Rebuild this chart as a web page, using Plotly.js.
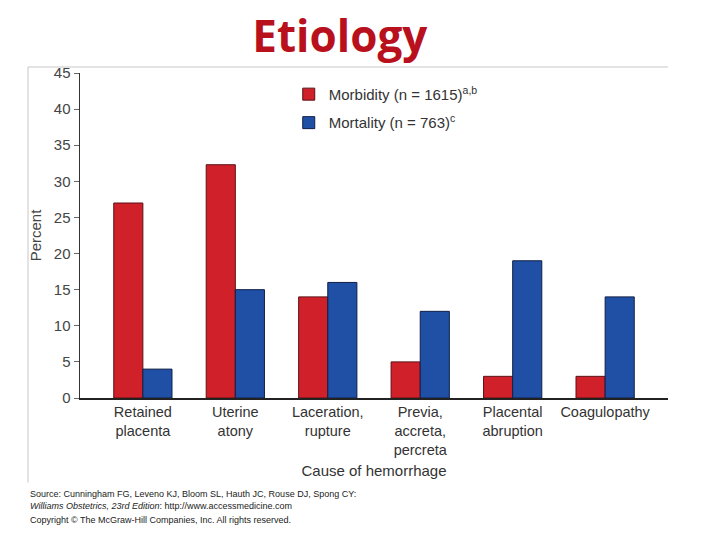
<!DOCTYPE html>
<html><head><meta charset="utf-8">
<script src="https://cdn.plot.ly/plotly-3.0.1.min.js"></script>
<style>html,body{margin:0;padding:0;background:#fff}#c{width:720px;height:540px}</style>
</head><body><div id="c"></div>
<script>
const categories = ["Retained<br>placenta","Uterine<br>atony","Laceration,<br>rupture","Previa,<br>accreta,<br>percreta","Placental<br>abruption","Coagulopathy"];
const morbidity = [27, 32.3, 14, 5, 3, 3];
const mortality = [4, 15, 16, 12, 19, 14];
const seriesNames = ["Morbidity (n = 1615)<sup>a,b</sup>", "Mortality (n = 763)<sup>c</sup>"];
const yTicks = [0,5,10,15,20,25,30,35,40,45];

const font = "Liberation Sans, Arial, sans-serif";
const traces = [
  {type:'bar', x:categories.map((c,i)=>i), y:morbidity, name:seriesNames[0], legendgroup:'a',
   marker:{color:'#d0212b', line:{color:'#5a1015', width:1}}},
  {type:'bar', x:categories.map((c,i)=>i), y:mortality, name:seriesNames[1], legendgroup:'b',
   marker:{color:'#1f50a6', line:{color:'#101f45', width:1}}}
];
const layout = {
  width:720, height:540,
  margin:{l:80, r:52, t:73, b:142},
  paper_bgcolor:'#fff', plot_bgcolor:'#fff',
  barmode:'group', bargap:0.37, bargroupgap:0,
  title:{text:'<b>Etiology</b>', x:0.472, xanchor:'center', y:0.932, yanchor:'middle',
         font:{family:'Open Sans, Liberation Sans, sans-serif', size:44, color:'#b8101c'}},
  xaxis:{range:[-0.68,5.68], tickvals:categories.map((c,i)=>i), ticktext:categories,
         showline:true, linecolor:'#222', linewidth:2, ticks:'', showgrid:false, zeroline:false,
         tickfont:{family:font, size:14.5, color:'#333'},
         title:{text:'Cause of hemorrhage', font:{family:font, size:15, color:'#333'}, standoff:8}},
  yaxis:{range:[0,45], tickvals:yTicks, showline:true, linecolor:'#333', linewidth:1.5,
         ticks:'outside', ticklen:5, tickcolor:'#666', showgrid:false, zeroline:false,
         tickfont:{family:font, size:15, color:'#444'},
         title:{text:'Percent', font:{family:font, size:15, color:'#444'}, standoff:8}},
  legend:{x:0.355, y:0.985, xanchor:'left', yanchor:'top', bgcolor:'rgba(0,0,0,0)',
          font:{family:font, size:15, color:'#333'}, tracegroupgap:6, itemwidth:30},
  shapes:[
    {type:'line', xref:'paper', yref:'paper', x0:-0.0884, x1:1, y0:1.0185, y1:1.0185, line:{color:'#c8c8c8', width:1}},
    {type:'line', xref:'paper', yref:'paper', x0:-0.0884, x1:-0.0884, y0:1.0185, y1:-0.26, line:{color:'#c8c8c8', width:1}}
  ],
  annotations:[
    {xref:'paper', yref:'paper', x:-0.0884, y:-0.275, xanchor:'left', yanchor:'top', align:'left', showarrow:false,
     text:'Source: Cunningham FG, Leveno KJ, Bloom SL, Hauth JC, Rouse DJ, Spong CY:<br><i>Williams Obstetrics, 23rd Edition</i>: http://www.accessmedicine.com',
     font:{family:font, size:9, color:'#222'}},
    {xref:'paper', yref:'paper', x:-0.0884, y:-0.355, xanchor:'left', yanchor:'top', align:'left', showarrow:false,
     text:'Copyright © The McGraw-Hill Companies, Inc. All rights reserved.',
     font:{family:font, size:9, color:'#222'}}
  ],
  showlegend:true
};
Plotly.newPlot('c', traces, layout, {displayModeBar:false, staticPlot:true});
</script></body></html>
